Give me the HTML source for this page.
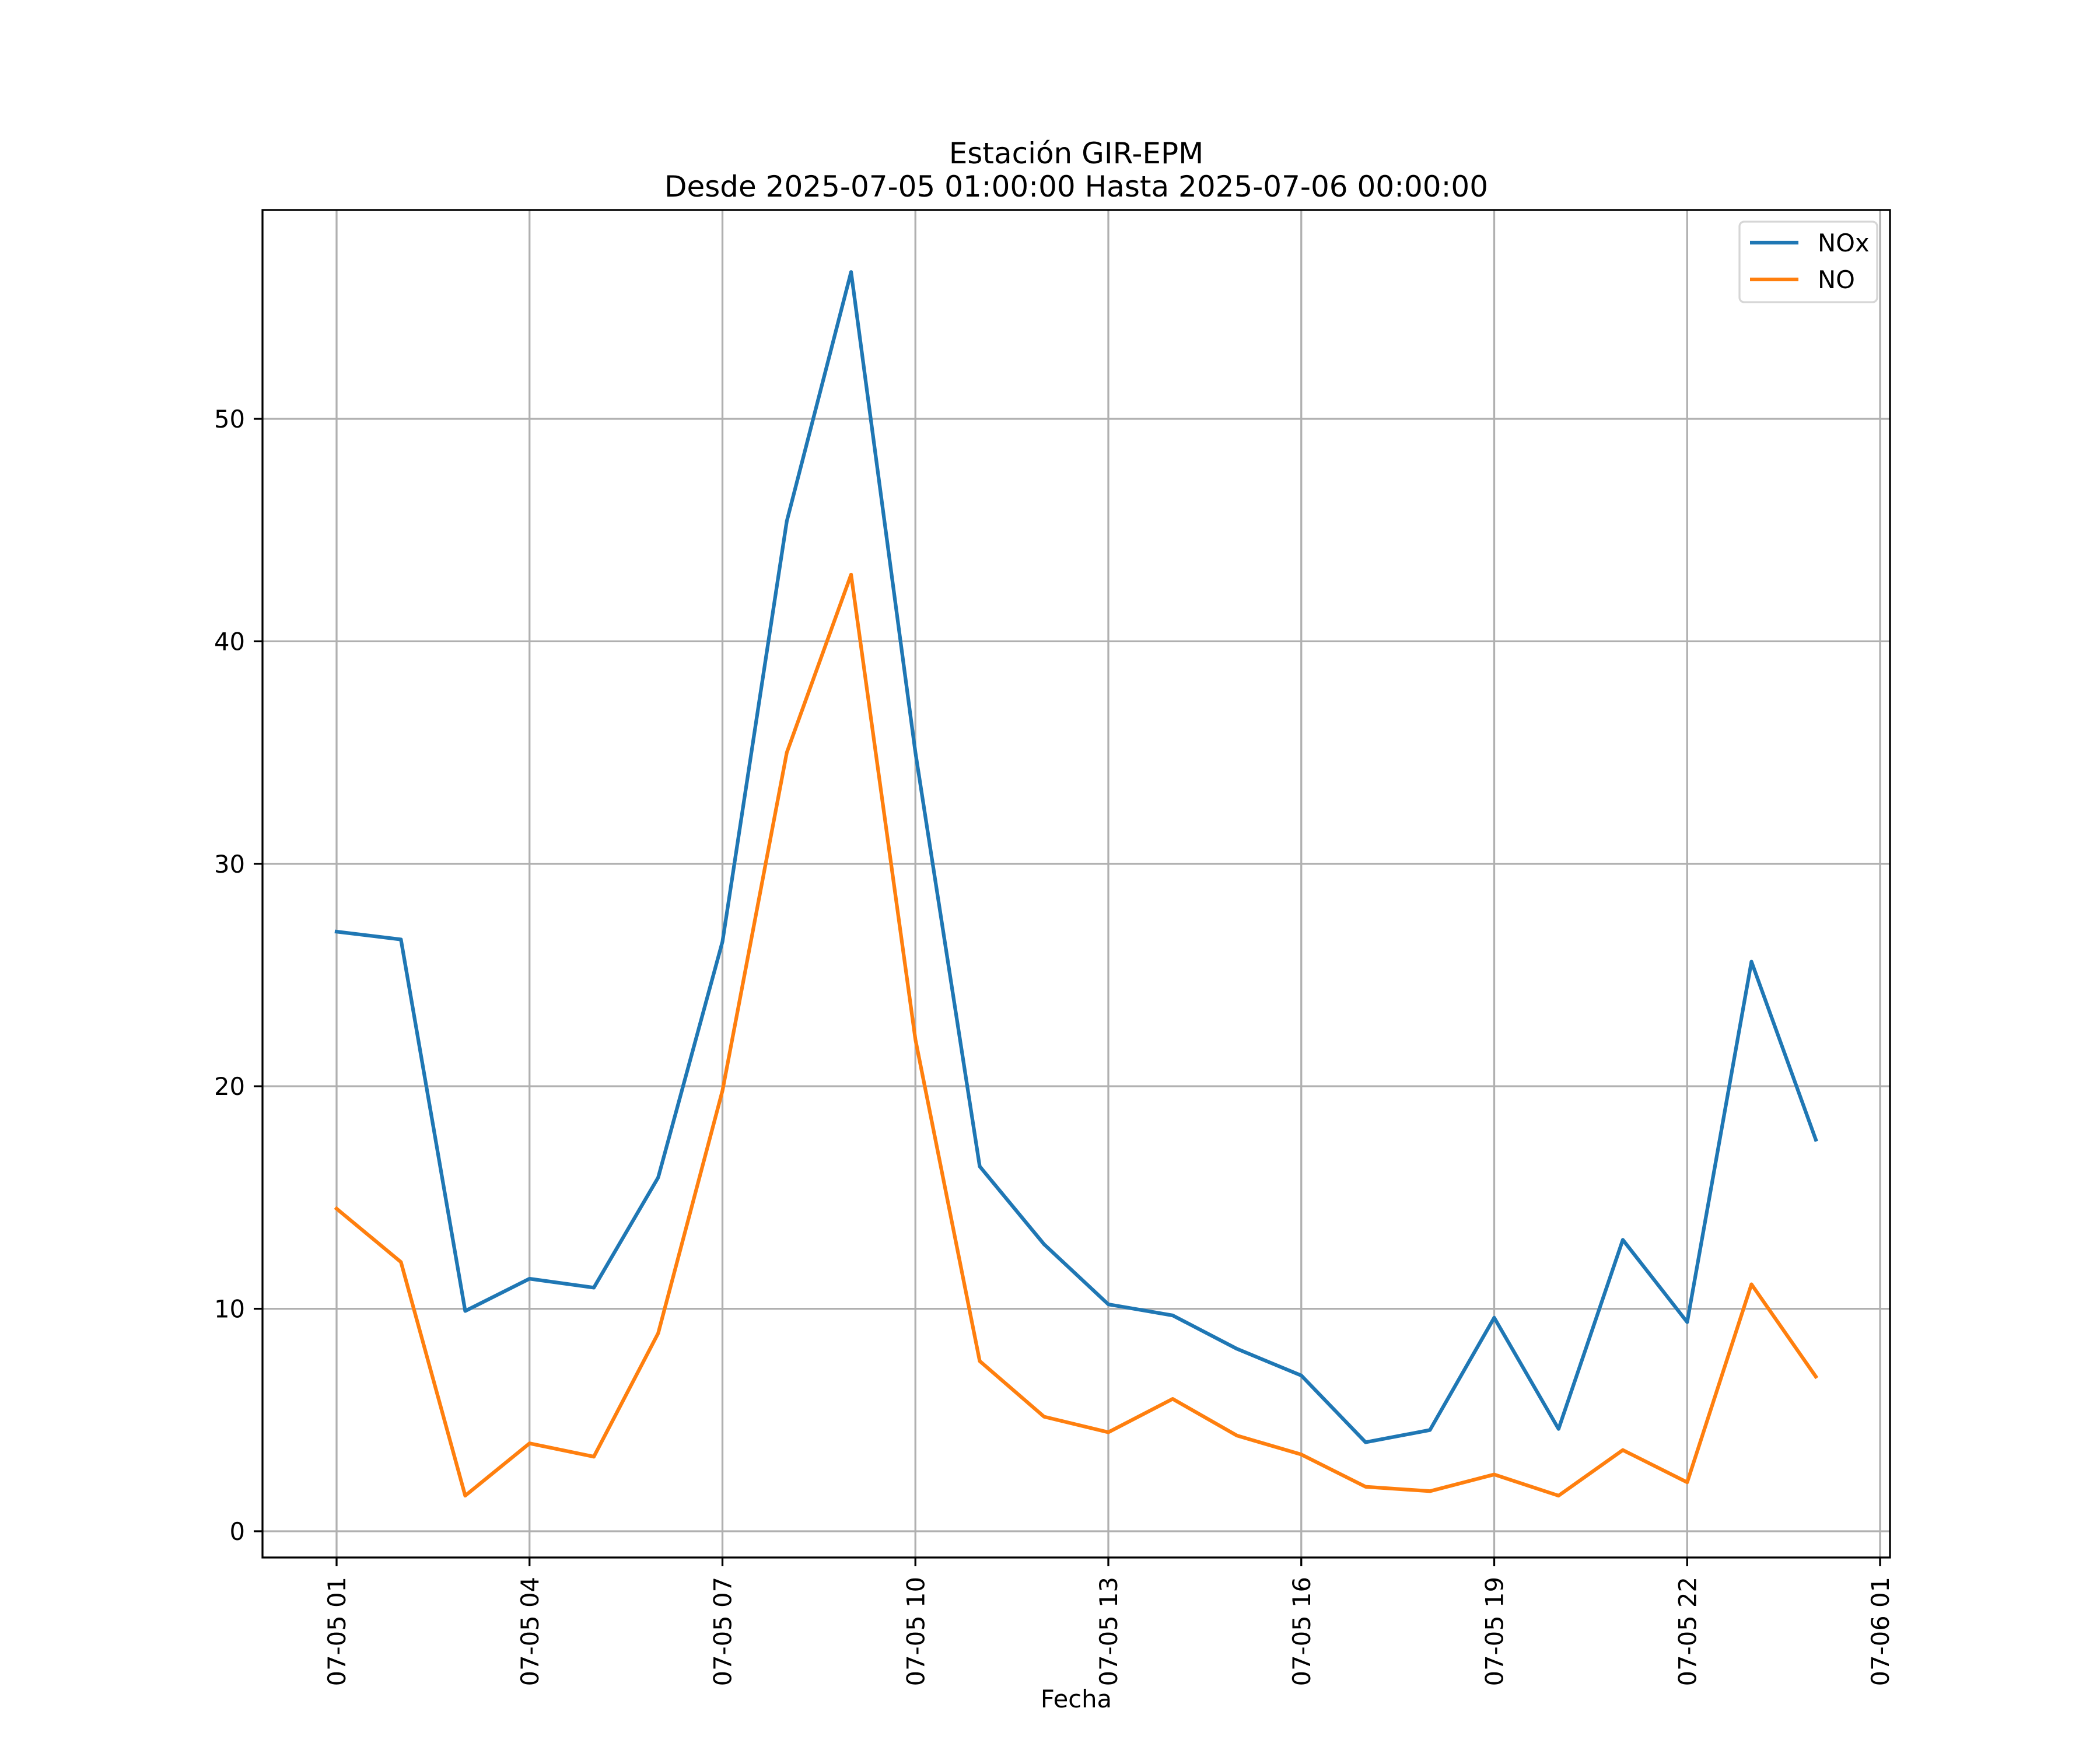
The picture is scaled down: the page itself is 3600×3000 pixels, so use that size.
<!DOCTYPE html>
<html><head><meta charset="utf-8"><style>
html,body{margin:0;padding:0;background:#fff;}
svg{display:block;font-family:"DejaVu Sans","Liberation Sans",sans-serif;}
</style></head><body>
<svg id="chart" width="3600" height="3000" viewBox="0 0 3600 3000">
<rect width="3600" height="3000" fill="#fff"/>
<g id="grid"></g>
<g id="series"></g>
<rect x="450" y="360" width="2790" height="2310" fill="none" stroke="#000" stroke-width="3.3"/>
<g id="ticks"></g>
<text x="1845" y="280" text-anchor="middle" font-size="50">Estación GIR-EPM</text>
<text x="1845" y="337" text-anchor="middle" font-size="50">Desde 2025-07-05 01:00:00 Hasta 2025-07-06 00:00:00</text>
<text x="1845" y="2927" text-anchor="middle" font-size="41.7">Fecha</text>
<g>
<rect x="2982" y="380" width="236" height="138" rx="8" fill="#fff" fill-opacity="0.8" stroke="#d6d6d6" stroke-width="3.3"/>
<line x1="3000" y1="416" x2="3083" y2="416" stroke="#1f77b4" stroke-width="6.25"/>
<text x="3116" y="431" font-size="41.7">NOx</text>
<line x1="3000" y1="479" x2="3083" y2="479" stroke="#ff7f0e" stroke-width="6.25"/>
<text x="3116" y="494" font-size="41.7">NO</text>
</g>
</svg>
<script>
const hours = [0,1,2,3,4,5,6,7,8,9,10,11,12,13,14,15,16,17,18,19,20,21,22,23];
const noxValues = [26.95,26.6,9.9,11.35,10.95,15.9,26.5,45.4,56.6,35,16.4,12.9,10.2,9.7,8.2,7.0,4.0,4.55,9.6,4.6,13.1,9.4,25.6,17.6];
const noValues = [14.5,12.1,1.6,3.95,3.35,8.9,19.8,35,43,22.1,7.65,5.15,4.45,5.95,4.3,3.45,2.0,1.8,2.55,1.6,3.65,2.2,11.1,6.95];
const xTickHours = [0,3,6,9,12,15,18,21,24];
const xTickLabels = ["07-05 01","07-05 04","07-05 07","07-05 10","07-05 13","07-05 16","07-05 19","07-05 22","07-06 01"];
const yTicks = [0,10,20,30,40,50];

const NS = "http://www.w3.org/2000/svg";
function xPos(h){ return 577 + h * (3223 - 577) / 24; }
function yPos(v){ return 2625 - v * (2625 - 718) / 50; }
function mk(tag, attrs, parent){
  const e = document.createElementNS(NS, tag);
  for (const k in attrs) e.setAttribute(k, attrs[k]);
  parent.appendChild(e);
  return e;
}
const grid = document.getElementById('grid');
const ticks = document.getElementById('ticks');
const series = document.getElementById('series');

xTickHours.forEach((h, i) => {
  const x = xPos(h);
  const g = mk('line', {x1:x, x2:x, y1:360, y2:2670, stroke:'#b0b0b0', 'stroke-width':3.3}, grid);
  
  
  const t = mk('line', {x1:x, x2:x, y1:2670, y2:2685, stroke:'#000', 'stroke-width':3.3}, ticks);
  
  
  const lab = mk('text', {x:0, y:0, 'font-size':41.7, 'text-anchor':'end', transform:`translate(${x+15},2703) rotate(-90)`}, ticks);
  lab.textContent = xTickLabels[i];
  
  
});
yTicks.forEach(v => {
  const y = yPos(v);
  const g = mk('line', {x1:450, x2:3240, y1:y, y2:y, stroke:'#b0b0b0', 'stroke-width':3.3}, grid);
  
  
  const t = mk('line', {x1:435, x2:450, y1:y, y2:y, stroke:'#000', 'stroke-width':3.3}, ticks);
  
  
  const lab = mk('text', {x:420, y:y+15, 'font-size':41.7, 'text-anchor':'end'}, ticks);
  lab.textContent = String(v);
  
  
});
function drawLine(vals, color, name){
  const pts = vals.map((v, i) => xPos(hours[i]).toFixed(1) + ',' + yPos(v).toFixed(1)).join(' ');
  const p = mk('polyline', {points:pts, fill:'none', stroke:color, 'stroke-width':6.25, 'stroke-linejoin':'round', 'stroke-linecap':'square'}, series);
  
  
}
drawLine(noxValues, '#1f77b4', 'nox-line');
drawLine(noValues, '#ff7f0e', 'no-line');
</script>
</body></html>
